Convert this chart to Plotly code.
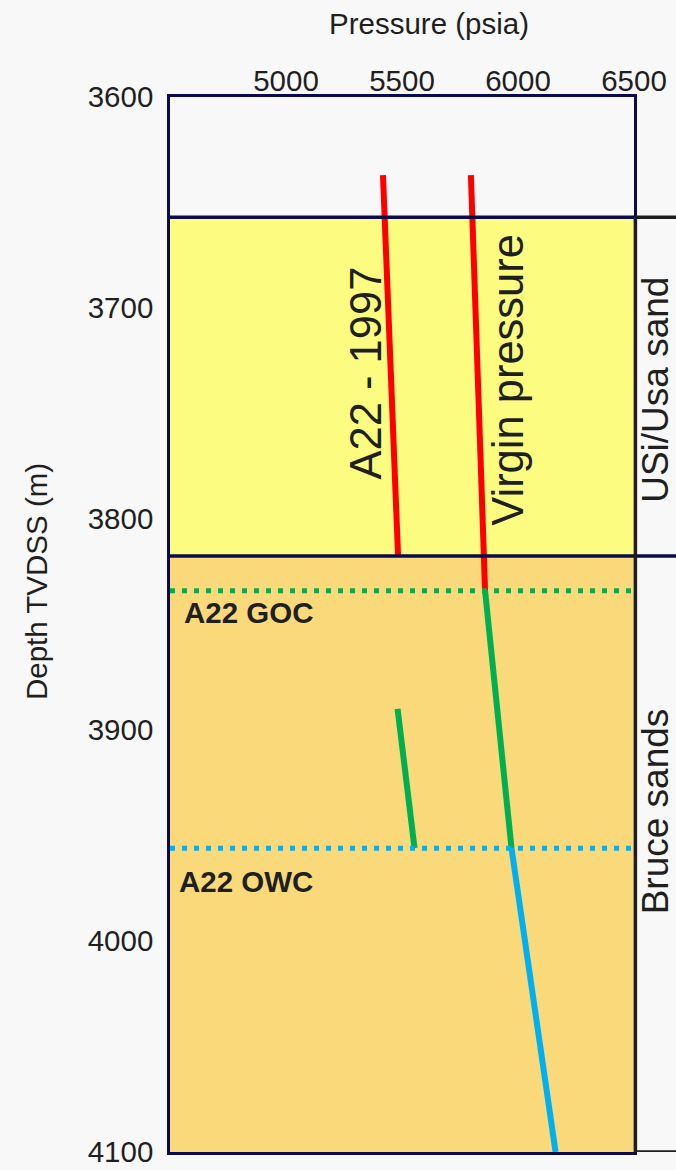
import plotly.graph_objects as go

# ---- data ----
pressure_ticks = [5000, 5500, 6000, 6500]
depth_ticks = [3600, 3700, 3800, 3900, 4000, 4100]

zone_names = ["USi/Usa sand", "Bruce sands"]
zone_top = [3657, 3817.5]
zone_base = [3817.5, 4100]

goc_depth = 3834
owc_depth = 3956

virgin_gas_depth = [3637, 3834]
virgin_gas_p = [5797, 5858]
virgin_oil_depth = [3834, 3956]
virgin_oil_p = [5858, 5972]
virgin_water_depth = [3956, 4100]
virgin_water_p = [5972, 6162]

a22_gas_depth = [3637, 3817.5]
a22_gas_p = [5418, 5483]
a22_oil_depth = [3890, 3956]
a22_oil_p = [5481, 5554]

XR = [4500, 6500]
YR = [4100, 3600]

RED = "#FF0000"
GREEN = "#00B050"
BLUE = "#00B0F0"
NAVY = "#0B0B4B"
DARK = "#1E1E1E"
BG = "#F8F8F8"
TXT = "#1F1F1F"
FONT = "Arial, Liberation Sans, sans-serif"

fig = go.Figure()

def line(x, y, color, width=6):
    fig.add_trace(go.Scatter(x=x, y=y, mode="lines", showlegend=False,
                             line=dict(color=color, width=width), hoverinfo="skip"))

line(virgin_gas_p, virgin_gas_depth, RED)
line(virgin_oil_p, virgin_oil_depth, GREEN)
line(virgin_water_p, virgin_water_depth, BLUE)
line(a22_gas_p, a22_gas_depth, RED)
line(a22_oil_p, a22_oil_depth, GREEN)

# contacts as dotted lines across the plot
fig.add_trace(go.Scatter(x=XR, y=[goc_depth, goc_depth], mode="lines", showlegend=False,
                         line=dict(color=GREEN, width=5, dash="5px,7px"), hoverinfo="skip"))
fig.add_trace(go.Scatter(x=XR, y=[owc_depth, owc_depth], mode="lines", showlegend=False,
                         line=dict(color=BLUE, width=5, dash="5px,7px"), hoverinfo="skip"))

shapes = []
fills = ["#FCFC80", "#F9D97A"]
for t, b, c in zip(zone_top, zone_base, fills):
    shapes.append(dict(type="rect", xref="x", yref="y", x0=XR[0], x1=XR[1], y0=t, y1=b,
                       fillcolor=c, line=dict(width=0), layer="below"))
# zone boundary lines (extend to the right as bracket)
shapes.append(dict(type="line", xref="paper", yref="y", x0=0, x1=1.0, y0=zone_top[0], y1=zone_top[0],
                   line=dict(color=NAVY, width=3.5)))
shapes.append(dict(type="line", xref="paper", yref="y", x0=1.0, x1=1.1, y0=zone_top[0], y1=zone_top[0],
                   line=dict(color=DARK, width=3.5)))
shapes.append(dict(type="line", xref="paper", yref="y", x0=0, x1=1.1, y0=zone_base[0], y1=zone_base[0],
                   line=dict(color=NAVY, width=3.5)))
# bracket vertical and bottom tick
shapes.append(dict(type="line", xref="paper", yref="y", x0=1.003, x1=1.003, y0=zone_top[0], y1=zone_base[1],
                   line=dict(color=DARK, width=3.5)))
shapes.append(dict(type="line", xref="paper", yref="y", x0=1.0, x1=1.1, y0=zone_base[1], y1=zone_base[1],
                   line=dict(color=DARK, width=3.5)))

def ann(text, x, y, size, xref="paper", yref="paper", angle=0, xanchor="center"):
    return dict(text=text, xref=xref, yref=yref, x=x, y=y, showarrow=False, textangle=angle,
                xanchor=xanchor, yanchor="middle",
                font=dict(size=size, color=TXT, family=FONT))

annotations = [
    ann("Pressure (psia)", 0.558, 1.0695, 29.5),
    ann("Depth TVDSS (m)", -0.2888, 0.5412, 29.5, angle=-90),
    ann("A22 - 1997", 5345, 3731, 43.5, xref="x", yref="y", angle=-90),
    ann("Virgin pressure", 5957, 3734, 43.5, xref="x", yref="y", angle=-90),
    ann(zone_names[0], 1.047, 0.7223, 37, angle=-90),
    ann(zone_names[1], 1.046, 0.3232, 37, angle=-90),
    ann("<b>A22 GOC</b>", 4552, 3844.5, 29.5, xref="x", yref="y", xanchor="left"),
    ann("<b>A22 OWC</b>", 4530, 3972, 29.5, xref="x", yref="y", xanchor="left"),
]

fig.update_layout(
    width=676, height=1170,
    margin=dict(l=170, r=42, t=97, b=18),
    paper_bgcolor=BG, plot_bgcolor=BG,
    shapes=shapes, annotations=annotations,
    showlegend=False,
    xaxis=dict(range=XR, side="top", tickvals=pressure_ticks, showgrid=False, zeroline=False,
               showline=True, mirror=True, linecolor=NAVY, linewidth=2.5, ticks="",
               automargin=False,
               ticklabelstandoff=-9, tickfont=dict(size=29.5, color=TXT, family=FONT)),
    yaxis=dict(range=YR, tickvals=depth_ticks, showgrid=False, zeroline=False,
               showline=True, mirror=True, linecolor=NAVY, linewidth=2.5, ticks="",
               automargin=False,
               ticklabelstandoff=8, tickfont=dict(size=29.5, color=TXT, family=FONT)),
)

fig.write_html("out.html", config={"displayModeBar": False},
               post_script="document.body.style.margin='0';document.body.style.overflow='hidden';")
